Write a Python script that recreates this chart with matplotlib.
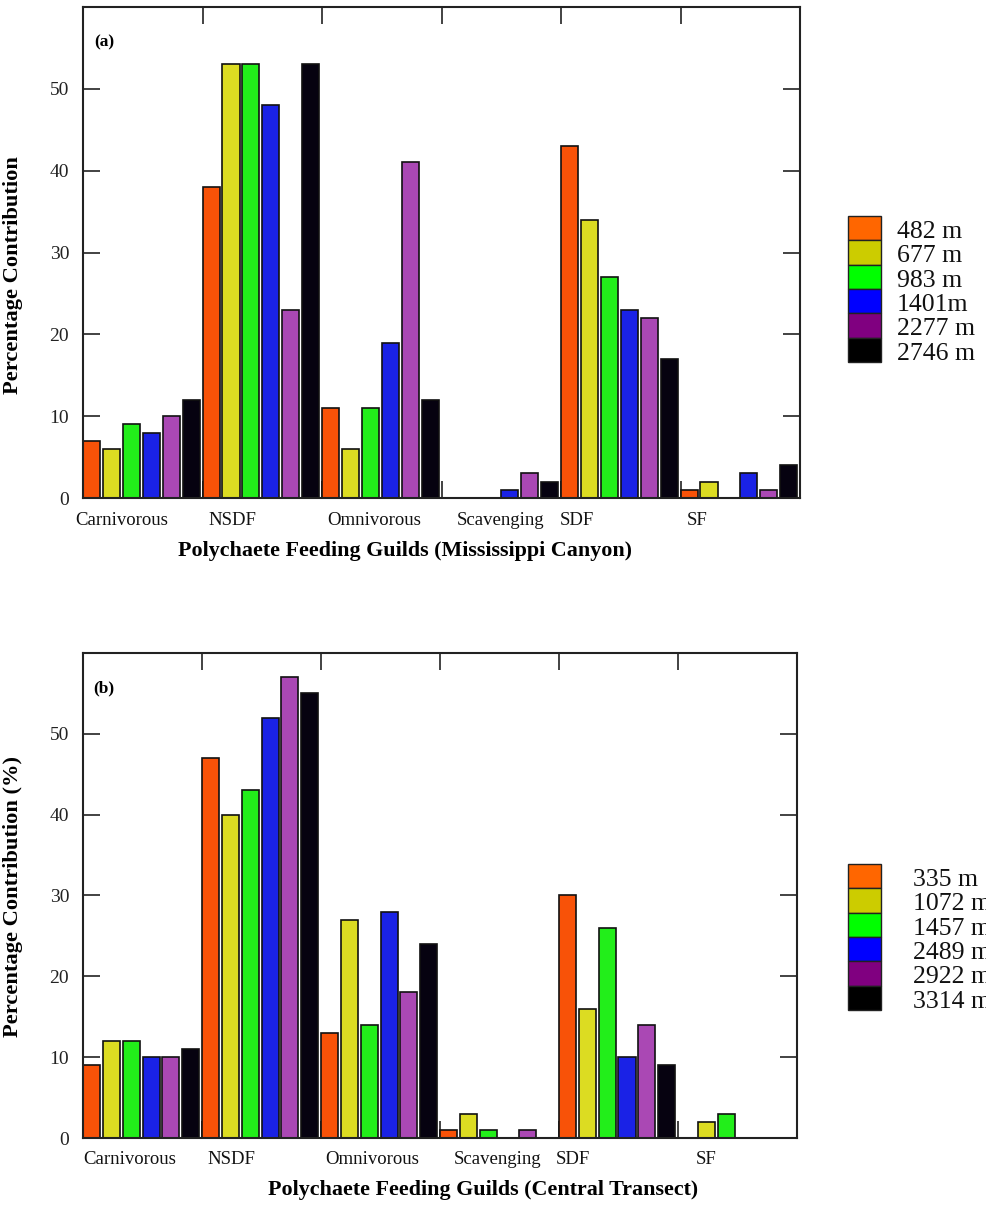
import matplotlib
matplotlib.use("Agg")
import matplotlib.pyplot as plt
from matplotlib.patches import Rectangle

plt.rcParams['font.family'] = ['Liberation Serif', 'DejaVu Serif']

guilds = ['Carnivorous', 'NSDF', 'Omnivorous', 'Scavenging', 'SDF', 'SF']

# (a) Mississippi Canyon
depths_a = ['482 m', '677 m', '983 m', '1401m', '2277 m', '2746 m']
mc_482 = [7, 38, 11, 0, 43, 1]
mc_677 = [6, 53, 6, 0, 34, 2]
mc_983 = [9, 53, 11, 0, 27, 0]
mc_1401 = [8, 48, 19, 1, 23, 3]
mc_2277 = [10, 23, 41, 3, 22, 1]
mc_2746 = [12, 53, 12, 2, 17, 4]

# (b) Central Transect
depths_b = ['335 m', '1072 m', '1457 m', '2489 m', '2922 m', '3314 m']
ct_335 = [9, 47, 13, 1, 30, 0]
ct_1072 = [12, 40, 27, 3, 16, 2]
ct_1457 = [12, 43, 14, 1, 26, 3]
ct_2489 = [10, 52, 28, 0, 10, 0]
ct_2922 = [10, 57, 18, 1, 14, 0]
ct_3314 = [11, 55, 24, 0, 9, 0]

bar_colors = ['#F85208', '#DCDC22', '#22EE1A', '#1A22E6', '#AA48B4', '#060210']
legend_colors = ['#FF6600', '#CCCC00', '#00FF00', '#0000FF', '#800080', '#000000']

# where the guild names sit under each panel (in data units)
label_x_a = [0.32, 1.25, 2.44, 3.49, 4.13, 5.14]
label_x_b = [0.39, 1.25, 2.43, 3.48, 4.12, 5.24]

fig = plt.figure(figsize=(9.86, 12.05), dpi=100)
ax1 = fig.add_axes([0.0842, 0.5867, 0.7272, 0.4075])
ax2 = fig.add_axes([0.0842, 0.0556, 0.7241, 0.4025])


def panel(ax, series, label_x, letter, xlabel, xlabel_x, ylabel, ylabel_y):
    n = len(series)
    for i, vals in enumerate(series):
        xs = [g + i / n for g in range(len(guilds))]
        ax.bar(xs, vals, width=0.143, align='edge', color=bar_colors[i],
               edgecolor='#111111', linewidth=1.2, zorder=2)
    ax.set_xlim(0, len(guilds))
    ax.set_ylim(0, 60)
    ax.set_axisbelow(True)
    ax.set_xticks(range(len(guilds) + 1))
    ax.set_xticklabels([])
    ax.set_yticks([0, 10, 20, 30, 40, 50])
    ax.tick_params(axis='both', direction='in', length=12, width=1.2,
                   color='#222222', top=True, right=True, labelsize=14,
                   labelcolor='#222222', pad=10)
    for s in ax.spines.values():
        s.set_linewidth(1.5)
        s.set_color('#222222')
        s.set_zorder(3)
    for name, x in zip(guilds, label_x):
        ax.text(x, -0.045, name, transform=ax.get_xaxis_transform(),
                ha='center', va='center', fontsize=13.5, color='#111111')
    ax.text(xlabel_x, -0.108, xlabel, transform=ax.transAxes, ha='center',
            va='center', fontsize=15.8, fontweight='bold')
    ax.set_ylabel(ylabel, fontsize=16.2, fontweight='bold')
    ax.yaxis.set_label_coords(-0.084, ylabel_y)
    ax.text(0.015, 0.927, letter, transform=ax.transAxes, fontsize=12.5,
            fontweight='bold', va='center')


panel(ax1, [mc_482, mc_677, mc_983, mc_1401, mc_2277, mc_2746], label_x_a, '(a)',
      'Polychaete Feeding Guilds (Mississippi Canyon)', 0.449,
      'Percentage Contribution', 0.454)
panel(ax2, [ct_335, ct_1072, ct_1457, ct_2489, ct_2922, ct_3314], label_x_b, '(b)',
      'Polychaete Feeding Guilds (Central Transect)', 0.56,
      'Percentage Contribution (%)', 0.497)


def legend(top_px, labels, text_x):
    W, H = 986, 1205
    box_h = 24.3
    for i, (c, lab) in enumerate(zip(legend_colors, labels)):
        y0 = top_px + i * box_h
        fig.patches.append(Rectangle((848 / W, 1 - (y0 + box_h) / H), 33 / W, box_h / H,
                                     transform=fig.transFigure, facecolor=c,
                                     edgecolor='#222222', linewidth=1.0))
        fig.text(text_x / W, 1 - (y0 + box_h / 2 + 4) / H, lab, fontsize=18.5,
                 va='center', ha='left', color='#111111')


legend(216, depths_a, 897)
legend(864, depths_b, 913)

fig.savefig('out.png', dpi=100)
